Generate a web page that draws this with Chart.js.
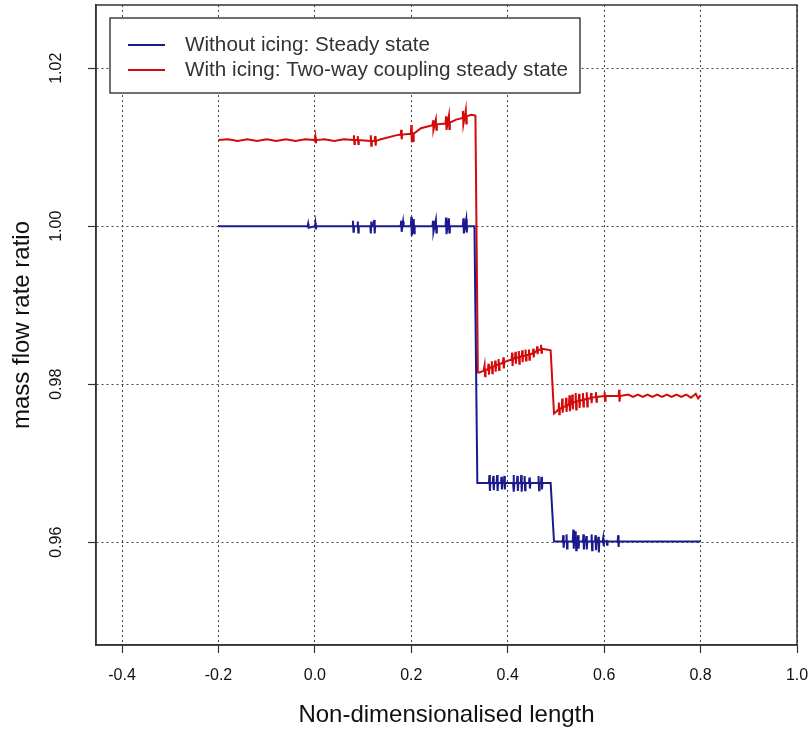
<!DOCTYPE html>
<html>
<head>
<meta charset="utf-8">
<script src="https://cdn.jsdelivr.net/npm/chart.js@4.4.1/dist/chart.umd.min.js"></script>
<style>
  html, body { margin: 0; padding: 0; background: #fff; }
  #wrap { width: 809px; height: 733px; }
</style>
</head>
<body>
<div id="wrap"><canvas id="grafico" width="809" height="733"></canvas></div>
<script>
// tick values of the two axes
const xTicks = [-0.4, -0.2, 0.0, 0.2, 0.4, 0.6, 0.8, 1.0];
const yTicks = [0.96, 0.98, 1.00, 1.02];

const seriesLabels = ["Without icing: Steady state", "With icing: Two-way coupling steady state"];

// without icing (blue)
const blueX = [
  -0.200, -0.015, -0.014, -0.013,
  0.000, 0.001, 0.002, 0.003,
  0.078, 0.079, 0.080, 0.081,
  0.088, 0.089, 0.090, 0.091,
  0.115, 0.116, 0.117, 0.118,
  0.122, 0.123, 0.124, 0.125,
  0.178, 0.179, 0.180, 0.183, 0.184,
  0.199, 0.200, 0.201, 0.205, 0.206, 0.207,
  0.244, 0.245, 0.246, 0.251, 0.252, 0.253,
  0.271, 0.272, 0.273, 0.278, 0.279, 0.280,
  0.307, 0.308, 0.309, 0.314, 0.315, 0.316,
  0.331, 0.337, 0.340,
  0.361, 0.362, 0.363, 0.364,
  0.369, 0.370, 0.371, 0.372,
  0.377, 0.378, 0.379, 0.380,
  0.386, 0.387, 0.388, 0.389,
  0.392, 0.393, 0.394, 0.395,
  0.411, 0.412, 0.413, 0.414,
  0.419, 0.420, 0.421, 0.422,
  0.427, 0.428, 0.429, 0.430,
  0.434, 0.435, 0.436, 0.437,
  0.444, 0.445, 0.446, 0.447,
  0.463, 0.464, 0.465, 0.466,
  0.469, 0.470, 0.471, 0.472,
  0.489, 0.496,
  0.514, 0.515, 0.516, 0.517,
  0.521, 0.522, 0.523, 0.524,
  0.535, 0.536, 0.537, 0.538,
  0.540, 0.541, 0.542, 0.543,
  0.545, 0.546, 0.547, 0.548,
  0.556, 0.557, 0.558, 0.559,
  0.562, 0.563, 0.564, 0.565,
  0.573, 0.574, 0.575, 0.576,
  0.581, 0.582, 0.583, 0.584,
  0.587, 0.588, 0.589, 0.590,
  0.597, 0.598, 0.599, 0.600,
  0.604, 0.605, 0.606, 0.607,
  0.628, 0.629, 0.630, 0.631,
  0.800
];
const blueY = [
  1.0000, 1.0000, 1.0003, 0.9998,
  1.0000, 1.0004, 0.9996, 1.0000,
  1.0000, 1.0007, 0.9993, 1.0000,
  1.0000, 1.0006, 0.9992, 1.0000,
  1.0000, 0.9991, 1.0006, 1.0000,
  1.0000, 1.0008, 0.9991, 1.0000,
  1.0000, 1.0007, 0.9993, 1.0006, 1.0000,
  1.0000, 1.0012, 0.9988, 1.0009, 0.9991, 1.0000,
  1.0000, 1.0007, 0.9993, 1.0008, 0.9992, 1.0000,
  1.0000, 1.0011, 0.9990, 1.0010, 0.9992, 1.0000,
  1.0000, 1.0010, 0.9991, 1.0009, 0.9992, 1.0000,
  1.0000, 0.9675, 0.9675,
  0.9675, 0.9685, 0.9665, 0.9675,
  0.9675, 0.9684, 0.9666, 0.9675,
  0.9675, 0.9685, 0.9665, 0.9675,
  0.9675, 0.9683, 0.9667, 0.9675,
  0.9675, 0.9684, 0.9667, 0.9675,
  0.9675, 0.9685, 0.9664, 0.9675,
  0.9675, 0.9684, 0.9665, 0.9675,
  0.9675, 0.9685, 0.9664, 0.9675,
  0.9675, 0.9684, 0.9666, 0.9675,
  0.9675, 0.9682, 0.9668, 0.9675,
  0.9675, 0.9684, 0.9666, 0.9675,
  0.9675, 0.9683, 0.9667, 0.9675,
  0.9675, 0.9601,
  0.9601, 0.9609, 0.9593, 0.9601,
  0.9601, 0.9610, 0.9592, 0.9601,
  0.9601, 0.9616, 0.9592, 0.9601,
  0.9601, 0.9614, 0.9590, 0.9601,
  0.9601, 0.9609, 0.9592, 0.9601,
  0.9601, 0.9610, 0.9591, 0.9601,
  0.9601, 0.9608, 0.9591, 0.9601,
  0.9601, 0.9610, 0.9590, 0.9601,
  0.9601, 0.9609, 0.9590, 0.9601,
  0.9601, 0.9607, 0.9587, 0.9601,
  0.9601, 0.9605, 0.9595, 0.9601,
  0.9601, 0.9603, 0.9597, 0.9601,
  0.9601, 0.9609, 0.9594, 0.9601,
  0.9601
];

// with icing (red)
const redX = [
  -0.200, -0.180, -0.160, -0.140, -0.120, -0.100,
  -0.080, -0.060, -0.040, -0.020,
  0.000, 0.001, 0.002, 0.003,
  0.020, 0.040, 0.060,
  0.080, 0.081, 0.082, 0.083,
  0.088, 0.089, 0.090, 0.091,
  0.115, 0.116, 0.117, 0.118,
  0.124, 0.125, 0.126, 0.127,
  0.137, 0.168,
  0.178, 0.179, 0.180, 0.181,
  0.199, 0.200, 0.201, 0.203, 0.204, 0.205,
  0.220,
  0.244, 0.245, 0.246, 0.251, 0.252, 0.253,
  0.271, 0.272, 0.273, 0.278, 0.279, 0.280,
  0.293,
  0.306, 0.307, 0.308, 0.313, 0.314, 0.315,
  0.324, 0.333, 0.338, 0.341,
  0.350, 0.352, 0.353, 0.354,
  0.359, 0.360, 0.361, 0.362,
  0.366, 0.367, 0.368, 0.369,
  0.373, 0.374, 0.375, 0.376,
  0.380, 0.381, 0.382, 0.383,
  0.390, 0.391, 0.392, 0.393,
  0.401,
  0.408, 0.409, 0.410, 0.411,
  0.415, 0.416, 0.417, 0.418,
  0.422, 0.423, 0.424, 0.425,
  0.429, 0.430, 0.431, 0.432,
  0.436, 0.437, 0.438, 0.439,
  0.443, 0.444, 0.445, 0.446,
  0.452, 0.453, 0.454, 0.455,
  0.460, 0.461, 0.462, 0.463,
  0.468, 0.469, 0.470, 0.471,
  0.480, 0.489, 0.496, 0.500,
  0.505, 0.506, 0.507, 0.508,
  0.512, 0.513, 0.514, 0.515,
  0.520, 0.521, 0.522, 0.523,
  0.527, 0.528, 0.529, 0.530,
  0.533, 0.534, 0.535, 0.536,
  0.540, 0.541, 0.542, 0.543,
  0.547, 0.548, 0.549, 0.550,
  0.555, 0.556, 0.557, 0.558,
  0.563, 0.564, 0.565, 0.566,
  0.572, 0.573, 0.574, 0.575,
  0.582, 0.583, 0.584, 0.585,
  0.600, 0.601, 0.602, 0.603,
  0.630, 0.631, 0.632, 0.633,
  0.650, 0.660, 0.670, 0.680, 0.690, 0.700,
  0.710, 0.720, 0.730, 0.740, 0.750, 0.760,
  0.770, 0.780, 0.790, 0.795, 0.800
];
const redY = [
  1.0109, 1.0110, 1.0108, 1.0110, 1.0108, 1.0110,
  1.0108, 1.0110, 1.0108, 1.0110,
  1.0109, 1.0113, 1.0105, 1.0109,
  1.0110, 1.0108, 1.0110,
  1.0109, 1.0115, 1.0104, 1.0109,
  1.0109, 1.0114, 1.0104, 1.0109,
  1.0108, 1.0115, 1.0102, 1.0108,
  1.0108, 1.0114, 1.0102, 1.0108,
  1.0110, 1.0115,
  1.0116, 1.0122, 1.0110, 1.0116,
  1.0117, 1.0128, 1.0106, 1.0119, 1.0108, 1.0117,
  1.0124,
  1.0128, 1.0134, 1.0122, 1.0135, 1.0122, 1.0129,
  1.0130, 1.0139, 1.0122, 1.0140, 1.0123, 1.0131,
  1.0135,
  1.0137, 1.0146, 1.0129, 1.0147, 1.0130, 1.0139,
  1.0141, 1.0140, 0.9815, 0.9815,
  0.9817, 0.9824, 0.9810, 0.9818,
  0.9819, 0.9826, 0.9812, 0.9820,
  0.9822, 0.9829, 0.9814, 0.9822,
  0.9823, 0.9830, 0.9816, 0.9824,
  0.9825, 0.9832, 0.9818, 0.9826,
  0.9827, 0.9834, 0.9820, 0.9828,
  0.9830,
  0.9831, 0.9840, 0.9823, 0.9832,
  0.9833, 0.9841, 0.9826, 0.9834,
  0.9834, 0.9842, 0.9826, 0.9835,
  0.9835, 0.9843, 0.9828, 0.9836,
  0.9836, 0.9844, 0.9830, 0.9837,
  0.9837, 0.9844, 0.9831, 0.9838,
  0.9839, 0.9845, 0.9834, 0.9840,
  0.9842, 0.9848, 0.9838, 0.9843,
  0.9844, 0.9850, 0.9840, 0.9845,
  0.9844, 0.9843, 0.9763, 0.9765,
  0.9768, 0.9777, 0.9762, 0.9769,
  0.9770, 0.9782, 0.9764, 0.9771,
  0.9772, 0.9783, 0.9765, 0.9773,
  0.9774, 0.9786, 0.9766, 0.9775,
  0.9776, 0.9787, 0.9768, 0.9777,
  0.9778, 0.9789, 0.9768, 0.9778,
  0.9779, 0.9788, 0.9770, 0.9779,
  0.9780, 0.9789, 0.9772, 0.9781,
  0.9781, 0.9790, 0.9772, 0.9782,
  0.9782, 0.9789, 0.9776, 0.9783,
  0.9784, 0.9790, 0.9778, 0.9784,
  0.9785, 0.9790, 0.9779, 0.9785,
  0.9785, 0.9793, 0.9778, 0.9785,
  0.9787, 0.9784, 0.9787, 0.9784, 0.9787, 0.9784,
  0.9787, 0.9784, 0.9787, 0.9784, 0.9787, 0.9784,
  0.9787, 0.9783, 0.9788, 0.9782, 0.9786
];

const corAzul = "#1a1a8e";
const corVermelha = "#d40a0a";
const fonte = "'Liberation Sans', Arial, sans-serif";

function pares(xs, ys) {
  return xs.map((x, i) => ({ x: x, y: ys[i] }));
}

// box round the plot, rotated y labels and the legend box
const extras = {
  id: "extras",
  afterDraw(chart) {
    const ctx = chart.ctx;
    const area = chart.chartArea;
    const sy = chart.scales.y;

    ctx.save();
    ctx.strokeStyle = "#333";
    ctx.lineWidth = 1.5;
    ctx.strokeRect(area.left, area.top, area.right - area.left, area.bottom - area.top);

    // y tick labels, written vertically like R does
    ctx.fillStyle = "#111";
    ctx.font = "16px " + fonte;
    ctx.textAlign = "center";
    ctx.textBaseline = "middle";
    yTicks.forEach(v => {
      ctx.save();
      ctx.translate(57, sy.getPixelForValue(v));
      ctx.rotate(-Math.PI / 2);
      ctx.fillText(v.toFixed(2), 0, 0);
      ctx.restore();
    });

    // legend
    const lx = 110, ly = 18, lw = 470, lh = 75;
    ctx.fillStyle = "#fff";
    ctx.fillRect(lx, ly, lw, lh);
    ctx.strokeStyle = "#111";
    ctx.lineWidth = 1.2;
    ctx.strokeRect(lx, ly, lw, lh);
    ctx.font = "20.7px " + fonte;
    ctx.textAlign = "left";
    chart.data.datasets.forEach((ds, i) => {
      const yy = ly + 27 + i * 25;
      ctx.strokeStyle = ds.borderColor;
      ctx.lineWidth = 2;
      ctx.beginPath();
      ctx.moveTo(lx + 18, yy);
      ctx.lineTo(lx + 55, yy);
      ctx.stroke();
      ctx.fillStyle = "#333";
      ctx.fillText(ds.label, lx + 75, yy);
    });
    ctx.restore();
  }
};

let grafico = new Chart(document.getElementById("grafico").getContext("2d"), {
  type: "scatter",
  data: {
    datasets: [
      {
        label: seriesLabels[0],
        data: pares(blueX, blueY),
        showLine: true,
        borderColor: corAzul,
        backgroundColor: corAzul,
        borderWidth: 2,
        pointRadius: 0,
        tension: 0
      },
      {
        label: seriesLabels[1],
        data: pares(redX, redY),
        showLine: true,
        borderColor: corVermelha,
        backgroundColor: corVermelha,
        borderWidth: 2,
        pointRadius: 0,
        tension: 0
      }
    ]
  },
  options: {
    responsive: false,
    animation: false,
    layout: { padding: { top: 5, right: 12, left: 0, bottom: 0 } },
    plugins: {
      legend: { display: false },
      tooltip: { enabled: false }
    },
    scales: {
      x: {
        type: "linear",
        min: -0.454,
        max: 1.0,
        afterBuildTicks: s => { s.ticks = xTicks.map(v => ({ value: v })); },
        afterFit: s => { s.height = 88; s.paddingLeft = 0; s.paddingRight = 0; },
        ticks: {
          callback: v => Number(v).toFixed(1),
          font: { family: fonte, size: 16 },
          color: "#111",
          padding: 13,
          maxRotation: 0,
          autoSkip: false
        },
        grid: {
          color: "#444",
          lineWidth: 1,
          tickLength: 8,
          tickColor: "#333",
          tickWidth: 1.2
        },
        border: { display: true, color: "#333", width: 1.5, dash: [2, 3] },
        title: {
          display: true,
          text: "Non-dimensionalised length",
          font: { family: fonte, size: 24 },
          color: "#111",
          padding: { top: 0, bottom: 3 }
        }
      },
      y: {
        type: "linear",
        min: 0.947,
        max: 1.028,
        afterBuildTicks: s => { s.ticks = yTicks.map(v => ({ value: v })); },
        afterFit: s => { s.width = 96; },
        ticks: { display: false },
        grid: {
          color: "#444",
          lineWidth: 1,
          tickLength: 8,
          tickColor: "#333",
          tickWidth: 1.2
        },
        border: { display: true, color: "#333", width: 1.5, dash: [2, 3] },
        title: {
          display: true,
          text: "mass flow rate ratio",
          font: { family: fonte, size: 24 },
          color: "#111",
          padding: { top: 8, bottom: 0 }
        }
      }
    }
  },
  plugins: [extras]
});
</script>
</body>
</html>
